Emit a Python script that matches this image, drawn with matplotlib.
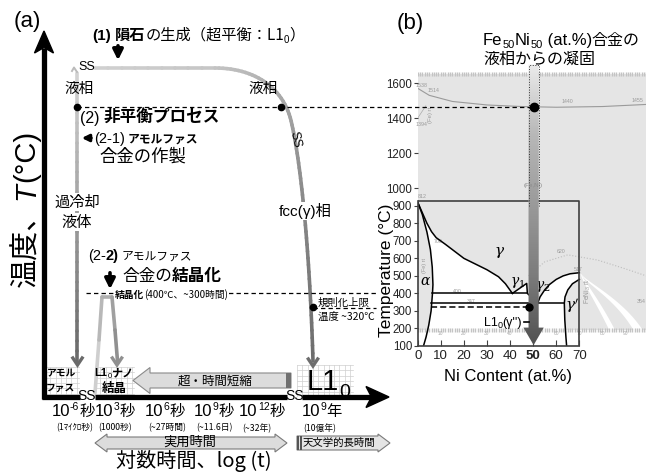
import numpy as np
import matplotlib
matplotlib.use('Agg')
import matplotlib.pyplot as plt
from matplotlib.collections import LineCollection
from matplotlib.patches import Polygon, Rectangle
from matplotlib.colors import to_rgb, LinearSegmentedColormap
import logging
logging.getLogger('matplotlib.font_manager').setLevel(logging.ERROR)

JP = ['Noto Sans CJK JP', 'DejaVu Sans']
LAT = ['Liberation Sans', 'Noto Sans CJK JP', 'DejaVu Sans']
NAR = ['Liberation Sans Narrow', 'Liberation Sans', 'DejaVu Sans']
plt.rcParams['font.family'] = JP
plt.rcParams['mathtext.fontset'] = 'dejavuserif'

# ---------------- data : panel (a) ----------------
time_exp = ['-6', '3', '6', '9', '12', '9']
time_unit = ['秒', '秒', '秒', '秒', '秒', '年']
time_note = ['(1ﾏｲｸﾛ秒)', '(1000秒)', '(~27時間)', '(~11.6日)', '(~32年)', '(10億年)']
T_liquid = 1465   # °C  liquid state (dashed line to panel b)
T_cryst = 400     # °C  crystallization
T_order = 320     # °C  upper ordering temperature

# ---------------- data : panel (b) ----------------
ni_ticks = [0, 10, 20, 30, 40, 50, 60, 70]
t_ticks = [100, 200, 300, 400, 500, 600, 700, 800, 900, 1000, 1200, 1400, 1600]
gam_ni = [0, 2, 4, 6, 8, 12, 20, 30, 35, 38, 41]
gam_T = [920, 860, 800, 752, 718, 680, 600, 535, 495, 455, 400]
alp_ni = [0, 2, 4, 5.5, 6.3, 6.6, 6.4, 5.8, 4.8, 4.3, 3.6, 2.5]
alp_T = [920, 850, 750, 650, 550, 450, 400, 300, 220, 190, 150, 100]
dome_ni = [52, 53, 55, 57, 60, 63, 66, 70]
dome_T = [345, 380, 420, 450, 480, 500, 512, 518]
gp_ni = [70, 67, 65, 63.8, 63.5, 63.7, 64.0, 64.2, 64.5]
gp_T = [480, 455, 420, 380, 345, 250, 190, 150, 100]
g1_ni = [41, 47.2, 47.5, 52]
g1_T = [400, 457, 400, 345]
liq_ni = [0, 5, 15, 30, 45, 60, 80, 99]
liq_T = [1570, 1530, 1495, 1475, 1466, 1462, 1466, 1478]
arc_ni = [48, 55, 65, 78, 90, 99]
arc_T = [500, 580, 620, 590, 540, 500]
comp_ni = 50.2
T_box_top = 930
T_bg = (190, 1650)

W, H = 646, 472
fig = plt.figure(figsize=(W / 100, H / 100), dpi=100)
ax = fig.add_axes([0, 0, 1, 1])
ax.set_xlim(0, W); ax.set_ylim(H, 0); ax.axis('off')
ax.set_zorder(3); ax.patch.set_visible(False)

PX0, PXS = 417.7, 2.309
PY0, PYS = 346.0, 0.1753
def ty(T):
    return PY0 - (T - 100) * PYS

XMAX, TMAX = 99.0, 1720.0
axb = fig.add_axes([PX0 / W, (H - PY0) / H, XMAX * PXS / W, (TMAX - 100) * PYS / H])
axb.set_zorder(1); axb.patch.set_visible(False)

R = fig.canvas.get_renderer()

def F(fam, size, **k):
    d = dict(family=fam, fontsize=size); d.update(k); return d

def rich(parts, x, y, ha='left', bbox=None, zorder=6):
    objs = []; cur = x
    for s, kw in parts:
        kw = dict(kw); dy = kw.pop('dy', 0); gap = kw.pop('gap', 0)
        t = ax.text(cur, y + dy, s, ha='left', va='baseline', zorder=zorder, **kw)
        if bbox: t.set_bbox(bbox)
        cur += t.get_window_extent(R).width + gap
        objs.append(t)
    total = cur - x
    sh = {'left': 0, 'center': total / 2, 'right': total}[ha]
    for t in objs:
        px, py = t.get_position(); t.set_x(px - sh)
    return objs

def rich_v(parts, x, y):
    cur = y
    for s, kw in parts:
        t = ax.text(x, cur, s, rotation=90, rotation_mode='anchor', ha='left',
                    va='baseline', **kw)
        cur -= t.get_window_extent(R).height

def bez(P, n=50):
    P = np.array(P, float); t = np.linspace(0, 1, n)[:, None]
    return ((1 - t) ** 3) * P[0] + 3 * ((1 - t) ** 2) * t * P[1] + 3 * (1 - t) * t ** 2 * P[2] + t ** 3 * P[3]

def grad_line(pts, c0, c1, lw, z=3):
    pts = np.asarray(pts, float)
    segs = np.stack([pts[:-1], pts[1:]], axis=1)
    t = np.linspace(0, 1, len(segs))[:, None]
    cols = np.array(to_rgb(c0))[None] * (1 - t) + np.array(to_rgb(c1))[None] * t
    ax.add_collection(LineCollection(segs, colors=cols, linewidths=lw, capstyle='round', zorder=z))

def chevron(x, y, c, s=7):
    ax.plot([x - s * 0.8, x, x + s * 0.8], [y - s * 1.2, y, y - s * 1.2], color=c, lw=2.4,
            solid_joinstyle='miter', solid_capstyle='butt', zorder=4)

def grid_box(x0, y0, x1, y1, step=5.3):
    ax.add_patch(Rectangle((x0, y0), x1 - x0, y1 - y0, fc='white', ec='none', zorder=2))
    for gx in np.arange(x0, x1 + 0.1, step):
        ax.plot([gx, gx], [y0, y1], color='#cfcfcf', lw=0.5, zorder=2.1)
    for gy in np.arange(y0, y1 + 0.1, step):
        ax.plot([x0, x1], [gy, gy], color='#cfcfcf', lw=0.5, zorder=2.1)

# ======================= panel (b) =======================
axb.add_patch(Rectangle((0, T_bg[0]), XMAX, T_bg[1] - T_bg[0], fc='#e5e5e5', ec='none', zorder=0))
a_keep = [(n, T) for n, T in zip(alp_ni, alp_T) if T >= 190]
gp_keep = [(n, T) for n, T in zip(gp_ni, gp_T) if T >= 190][::-1]
white = a_keep + gp_keep + [(70, 518)] + list(zip(dome_ni, dome_T))[::-1][1:] + \
        [(47.5, 400), (47.2, 457)] + list(zip(gam_ni, gam_T))[::-1]
axb.add_patch(Polygon(white, closed=True, fc='white', ec='none', zorder=0.5))
for o_end, i_end, o_mid, i_mid in [((85.5, 190), (83, 190), (78, 380), (76, 380)),
                                   ((97.5, 190), (93.5, 190), (88, 380), (85, 380))]:
    outer = bez([(70.5, 517), (72, 470), o_mid, o_end], 30)
    inner = bez([(70.5, 517), (71, 470), i_mid, i_end], 30)
    axb.add_patch(Polygon(np.vstack([outer, inner[::-1]]), closed=True, fc='white', ec='none', zorder=0.6))
axb.add_patch(Rectangle((0, 100), 70, T_bg[0] - 100, fc='white', ec='none', zorder=0.4))

axb.plot(liq_ni, liq_T, color='#9a9a9a', lw=0.8, zorder=1)
axb.plot(arc_ni, arc_T, color='#bdbdbd', lw=0.8, ls=':', zorder=1)
axb.plot([0, 3.5], [1400, 1470], color='#aaaaaa', lw=0.5, zorder=1)
axb.plot(np.arange(0, 99.5, 1), [T_bg[0]] * 100, ls='none', marker='|', ms=2.5, color='#c3c3c3', zorder=1)
axb.plot(np.arange(0, 99.5, 1), [T_bg[1]] * 100, ls='none', marker='|', ms=2.5, color='#c3c3c3', zorder=1)
for v in range(10, 100, 10):
    axb.text(v, 172, str(v), fontsize=3.5, color='#aaaaaa', ha='center', va='center', family=NAR, zorder=1)
faint = [(1.5, 1585, '1538'), (7, 1555, '1514'), (1.5, 1362, '1394'), (65, 1492, '1440'),
         (95, 1500, '1455'), (2, 950, '812'), (17, 410, '400'), (23, 355, '347'),
         (62, 640, '620'), (69.5, 535, '517'), (97, 355, '354'), (9, 695, '700')]
for n, T, s in faint:
    axb.text(n, T, s, fontsize=3.8, color='#9a9a9a', ha='center', va='center', family=NAR, zorder=1)
axb.text(5.5, 1420, '(Fe) rt', rotation=90, fontsize=4.2, color='#9a9a9a', ha='center', va='center', family=NAR, zorder=1)
axb.text(3, 560, '(Fe) rt', rotation=90, fontsize=4.0, color='#9a9a9a', ha='center', va='center', family=NAR, zorder=1)
axb.text(73.5, 410, 'FeNi$_3$ rt', rotation=90, fontsize=4.8, color='#9a9a9a', ha='center', va='center', family=NAR, zorder=1)

kb = dict(color='black', lw=1.1, zorder=3)
axb.plot(gam_ni, gam_T, **kb)
axb.plot(alp_ni, alp_T, **kb)
axb.plot(dome_ni, dome_T, **kb)
axb.plot(gp_ni, gp_T, **kb)
axb.plot(g1_ni, g1_T, **kb)
axb.plot([6.4, 47.5], [400, 400], **kb)
axb.plot([5.9, 63.5], [345, 345], **kb)
axb.plot([5.7, 48.3], [T_order, T_order], color='black', lw=1.1, ls=(0, (4, 2)), zorder=3)
axb.plot([0, 70, 70], [T_box_top, T_box_top, 100], color='#404040', lw=1.2, zorder=3)

axb.text(35.6, 640, r'$\gamma$', fontsize=11, ha='center', va='center', zorder=4)
axb.text(43.3, 462, r'$\gamma_1$', fontsize=10, ha='center', va='center', zorder=4)
axb.text(54.0, 438, r'$\gamma_2$', fontsize=10, ha='center', va='center', zorder=4)
axb.text(67.0, 330, r"$\gamma'$", fontsize=11, ha='center', va='center', zorder=4)
axb.text(3.3, 468, r'$\alpha$', fontsize=10, ha='center', va='center', zorder=4)

arrow_pts = [(comp_ni - 2.2, 1705), (comp_ni + 2.2, 1705), (comp_ni + 2.2, 205), (comp_ni + 4.4, 205),
             (comp_ni, 105), (comp_ni - 4.4, 205), (comp_ni - 2.2, 205)]
cmap = LinearSegmentedColormap.from_list('g', ['#505050', '#7c7c7c', '#9a9a9a', '#b8b8b8', '#ececec'])
im = axb.imshow(np.linspace(0, 1, 256)[:, None], extent=[comp_ni - 5, comp_ni + 5, 100, 1710],
                origin='lower', cmap=cmap, aspect='auto', zorder=5)
clip = Polygon(arrow_pts, closed=True, transform=axb.transData, fc='none', ec='none')
axb.add_patch(clip); im.set_clip_path(clip)
axb.plot([comp_ni - 2.2, comp_ni - 2.2, comp_ni + 2.2, comp_ni + 2.2], [900, 1705, 1705, 900],
         color='#333333', lw=0.7, ls=':', zorder=6)
axb.text(comp_ni, 1015, '(Fe,Ni)', fontsize=4.5, color='#8a8a8a', ha='center', va='center', family=NAR, zorder=6)
axb.plot([comp_ni], [T_liquid], 'o', color='black', ms=6, zorder=7)
axb.plot([48.3], [T_order], 'o', color='black', ms=5, zorder=7)
axb.plot([46.0, 48.3], [237, 237], color='black', lw=1.2, zorder=7)

axb.set_xlim(0, XMAX); axb.set_ylim(100, TMAX)
for s in ['top', 'right']:
    axb.spines[s].set_visible(False)
axb.spines['left'].set_bounds(100, T_box_top)
axb.spines['bottom'].set_bounds(0, 70)
for s in ['left', 'bottom']:
    axb.spines[s].set_color('#404040'); axb.spines[s].set_linewidth(1.2); axb.spines[s].set_zorder(3)
axb.set_xticks(ni_ticks)
axb.set_xticklabels([str(v) for v in ni_ticks], family=NAR, fontsize=9.5, color='#222222')
axb.get_xticklabels()[ni_ticks.index(50)].set_fontweight('bold')
axb.set_yticks(t_ticks)
axb.set_yticklabels([str(v) for v in t_ticks], family=NAR, fontsize=8.3, color='#222222')
axb.tick_params(axis='x', direction='in', length=4, pad=3, color='#404040')
axb.tick_params(axis='y', direction='out', length=3, pad=1, color='#404040')

ax.text(410, 23, '(b)', fontsize=16, family=LAT, ha='center', va='center')
rich([('Fe', F(NAR, 12)), ('50', F(NAR, 8, dy=3)), ('Ni', F(NAR, 12)), ('50', F(NAR, 8, dy=3)),
      (' (at.%)', F(NAR, 12)), ('合金の', F(JP, 11.5))], 483, 45)
ax.text(483, 59, '液相からの凝固', fontsize=11.5, ha='left', va='center')
ax.text(386, 270, 'Temperature (°C)', rotation=90, fontsize=12.5, family=NAR, ha='center', va='center')
ax.text(508, 377, 'Ni Content (at.%)', fontsize=12, family=NAR, ha='center', va='center')
rich([('L1', F(NAR, 9)), ('0', F(NAR, 6.5, dy=2.5)), ("(γ'')", F(NAR, 9))], 522, 326, ha='right')

# ======================= panel (a) =======================
ax.text(27, 22, '(a)', fontsize=16, family=LAT, ha='center', va='center')
ax.plot([44, 44], [399, 48], color='black', lw=3.8, solid_capstyle='butt', zorder=5)
ax.add_patch(Polygon([(44, 31), (34.5, 53), (44, 47.5), (53.5, 53)], closed=True, fc='black', ec='black', zorder=5))
for x0, x1 in [(42, 80), (95, 287), (302, 372)]:
    ax.plot([x0, x1], [397, 397], color='black', lw=3.8, solid_capstyle='butt', zorder=5)
ax.add_patch(Polygon([(389, 397), (366, 386.5), (371.5, 397), (366, 407.5)], closed=True, fc='black', ec='black', zorder=5))
ax.text(87, 400, 'SS', fontsize=10, family=LAT, ha='center', va='baseline', zorder=6)
ax.text(295, 400, 'SS', fontsize=10, family=LAT, ha='center', va='baseline', zorder=6)

y_liq, y_cry, y_ord = ty(T_liquid), ty(T_cryst), ty(T_order)

left = np.column_stack([np.full(30, 77.0), np.linspace(73, 361, 30)])
grad_line(left, '#d2d2d2', '#6a6a6a', 2.6)
ax.plot([72, 74, 77], [71, 67.5, 72], color='#bbbbbb', lw=1.4, zorder=3)
chevron(77.5, 365, '#6a6a6a')
top = np.vstack([np.column_stack([np.linspace(95, 215, 10), np.full(10, 68.0)]),
                 bez([(215, 68), (255, 68), (285, 88), (292, 125)], 30),
                 bez([(292, 125), (302, 170), (310, 260), (313, 361)], 40)])
grad_line(top, '#d0d0d0', '#6e6e6e', 2.6)
chevron(313, 366, '#6e6e6e')
cry = np.array([(95, 393), (99, 340), (102, 297), (112, 297), (115, 330), (117.5, 361)])
grad_line(cry[:3], '#cfcfcf', '#b8b8b8', 2.6)
grad_line(cry[2:], '#b0b0b0', '#909090', 2.6)
chevron(117, 365, '#909090')

dk = dict(color='black', lw=0.9, ls=(0, (3.5, 2.5)), zorder=4)
ax.plot([77, PX0 + comp_ni * PXS], [y_liq, y_liq], **dk)
ax.plot([77, 281], [y_liq, y_liq], 'o', color='black', ms=4.5, zorder=6)
ax.plot([86, 378], [y_cry, y_cry], **dk)
ax.plot([313, 376], [y_ord + 1, y_ord + 1], **dk)
ax.plot([313], [y_ord], 'o', color='black', ms=4.5, zorder=6)

rich([('(1)', F(LAT, 11, weight='bold', gap=4)), ('隕石', F(JP, 11, weight='bold')),
      ('の生成（超平衡：L1', F(JP, 11)), ('0', F(LAT, 7, dy=3)), ('）', F(JP, 11))], 92, 40)
ax.annotate('', xy=(118, 63), xytext=(118, 43),
            arrowprops=dict(arrowstyle='-|>', lw=2.6, color='black', mutation_scale=15))
ax.text(87, 67, 'SS', fontsize=9, family=LAT, ha='center', va='center', zorder=6)
ax.text(79, 89, '液相', fontsize=10.5, ha='center', va='center', zorder=6)
ax.text(263, 89, '液相', fontsize=10.5, ha='center', va='center', zorder=6)
ax.text(295, 140, 'SS', fontsize=9, family=LAT, rotation=-78, ha='center', va='center', zorder=6)
rich([('(2)', F(LAT, 11.5, gap=4)), ('非平衡プロセス', F(JP, 12, weight='bold'))], 80, 123)
ax.annotate('', xy=(79, 138), xytext=(94, 138),
            arrowprops=dict(arrowstyle='-|>', lw=2.2, color='black', mutation_scale=10))
rich([('(2-1)', F(LAT, 10.5, gap=3)), ('アモルファス', F(JP, 8.5, weight='bold'))], 94, 143)
ax.text(143, 157, '合金の作製', fontsize=12.5, ha='center', va='center')
wb = dict(fc='white', ec='none', pad=0.6)
ax.text(77, 202, '過冷却', fontsize=11, ha='center', va='center', bbox=wb, zorder=6)
ax.text(77, 222, '液体', fontsize=11, ha='center', va='center', bbox=wb, zorder=6)
ax.text(305, 211, 'fcc(γ)相', fontsize=11, family=NAR + ['Noto Sans CJK JP'], ha='center', va='center', bbox=wb, zorder=6)
rich([('(2-', F(LAT, 10.5)), ('2)', F(LAT, 10.5, weight='bold', gap=3)), ('アモルファス', F(JP, 8.5))], 88, 260)
ax.annotate('', xy=(110, 292), xytext=(110, 270),
            arrowprops=dict(arrowstyle='-|>', lw=2.6, color='black', mutation_scale=15))
rich([('合金の', F(JP, 12)), ('結晶化', F(JP, 12, weight='bold'))], 122, 281)
rich([('結晶化', F(JP, 7, weight='bold')), ('(400℃、~300時間)', F(JP, 7))], 115, 298, bbox=dict(fc='white', ec='none', pad=0.3))
ax.text(318, 303, '規則化上限', fontsize=7.5, ha='left', va='center', zorder=6)
ax.text(318, 317, '温度 ~320℃', fontsize=7.5, ha='left', va='center', zorder=6)

grid_box(45, 367, 79, 394)
grid_box(95, 367, 134, 395)
grid_box(297, 365, 353, 396)
ax.text(61, 373, 'アモル', fontsize=7, weight='bold', ha='center', va='center', zorder=6)
ax.text(60, 388, 'ファス', fontsize=7, weight='bold', ha='center', va='center', zorder=6)
rich([('L1', F(LAT, 8, weight='bold')), ('0', F(LAT, 5.5, dy=2)), ('ナノ', F(JP, 8, weight='bold'))], 114, 376, ha='center')
ax.text(114, 388, '結晶', fontsize=9, weight='bold', ha='center', va='center', zorder=6)
rich([('L1', F(LAT, 21)), ('0', F(LAT, 14, dy=7))], 307, 390)

ax.add_patch(Polygon([(133, 380.5), (150, 367.5), (150, 373), (291, 373), (291, 388), (150, 388), (150, 393.5)],
                     closed=True, fc='#dcdcdc', ec='#8a8a8a', lw=0.8, zorder=3))
ax.add_patch(Rectangle((285.5, 373), 5, 15, fc='#707070', ec='none', zorder=3.1))
ax.text(215, 381, '超・時間短縮', fontsize=9, ha='center', va='center', zorder=6)

tick_px = [73, 115, 165, 214, 262, 322]
note_px = [75, 115, 167, 214, 257, 320]
for xc, e, u in zip(tick_px, time_exp, time_unit):
    rich([('10', F(LAT, 12)), (e, F(LAT, 7.5, dy=-6)), (u, F(JP, 11))], xc, 416, ha='center')
for xc, s in zip(note_px, time_note):
    ax.text(xc, 428, s, fontsize=6.3, ha='center', va='center')

ax.add_patch(Polygon([(95, 443), (107, 434), (107, 437), (275, 437), (275, 434), (287, 443),
                      (275, 452), (275, 449), (107, 449), (107, 452)], closed=True,
                     fc='#dcdcdc', ec='#7a7a7a', lw=0.8, zorder=3))
ax.text(190, 442, '実用時間', fontsize=9.5, ha='center', va='center', zorder=6)
ax.add_patch(Polygon([(297, 436), (378, 436), (378, 434), (390, 443), (378, 452), (378, 450), (297, 450)],
                     closed=True, fc='#e4e4e4', ec='#7a7a7a', lw=0.8, zorder=3))
ax.add_patch(Rectangle((297, 436), 1.6, 14, fc='#555555', ec='none', zorder=3.1))
ax.add_patch(Rectangle((300, 436), 1.6, 14, fc='#555555', ec='none', zorder=3.1))
ax.text(339, 443, '天文学的長時間', fontsize=7.5, ha='center', va='center', zorder=6)

ax.text(194, 461, '対数時間、log (t)', fontsize=14.5, ha='center', va='center')
rich_v([('温度、', F(JP, 21)), ('T', F(LAT, 21, style='italic')), ('(°C)', F(LAT, 21))], 34, 287)

fig.savefig('out.png', dpi=100)
